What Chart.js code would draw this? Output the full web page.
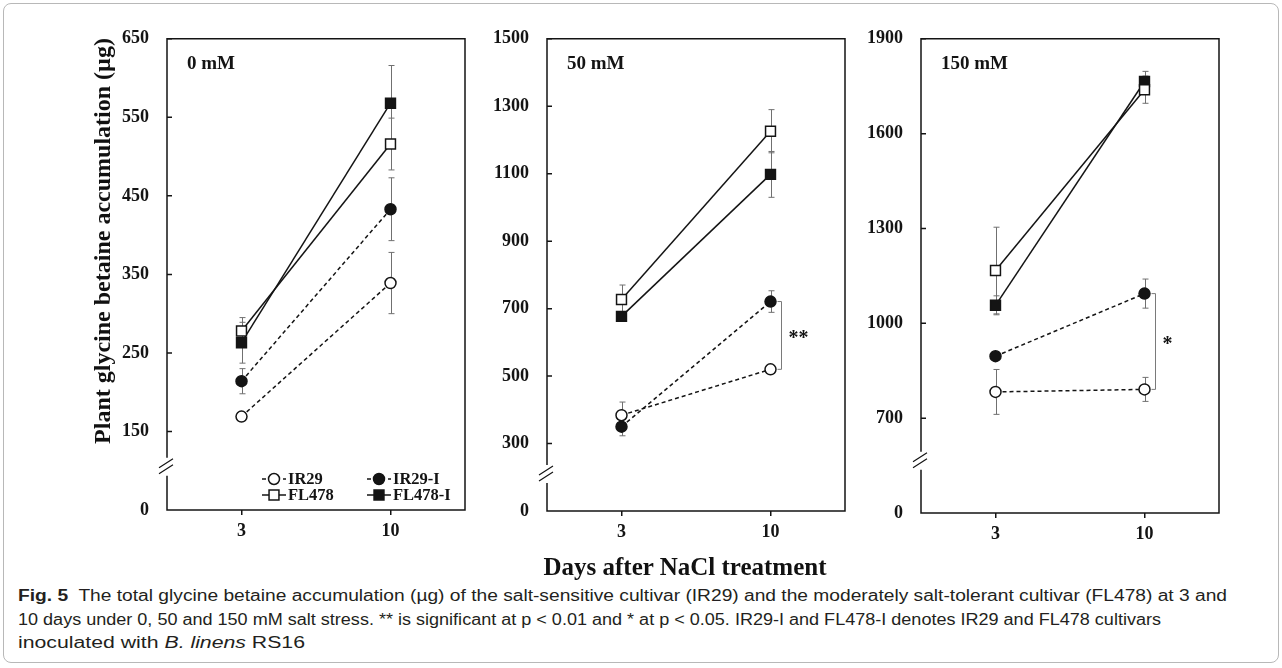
<!DOCTYPE html>
<html>
<head>
<meta charset="utf-8">
<script src="https://cdn.jsdelivr.net/npm/chart.js@4.4.0/dist/chart.umd.min.js"></script>
<style>
  body { margin: 0; background: #fff; width: 1282px; height: 668px; overflow: hidden; position: relative; }
  #frame { position: absolute; left: 3px; top: 3px; width: 1274px; height: 658px; border: 1px solid #b8b8b8; border-radius: 8px; }
  canvas { position: absolute; }
  .axtitle { position: absolute; font-family: "Liberation Serif", serif; font-weight: bold; color: #111; text-align: center; white-space: nowrap; }
  #ytitle { left: -108px; top: 226px; width: 420px; height: 30px; line-height: 30px; font-size: 24px; transform: rotate(-90deg); }
  #xtitle { left: 435px; top: 552px; width: 500px; height: 30px; line-height: 30px; font-size: 25px; }
  #caption { position: absolute; left: 18px; top: 584px; font-family: "Liberation Sans", sans-serif; font-size: 16px; line-height: 23.5px; color: #231f20; }
  .cap { display: inline-block; white-space: nowrap; transform-origin: 0 50%; }
</style>
</head>
<body>
<div id="frame"></div>
<canvas id="c0" width="440" height="545" style="left:40px;top:10px"></canvas>
<canvas id="c50" width="380" height="546" style="left:480px;top:10px"></canvas>
<canvas id="c150" width="374" height="548" style="left:860px;top:10px"></canvas>
<div id="ytitle" class="axtitle">Plant glycine betaine accumulation (µg)</div>
<div id="xtitle" class="axtitle">Days after NaCl treatment</div>
<div id="caption">
  <span class="cap" data-w="1209"><b>Fig. 5</b>&nbsp; The total glycine betaine accumulation (µg) of the salt-sensitive cultivar (IR29) and the moderately salt-tolerant cultivar (FL478) at 3 and</span><br>
  <span class="cap" data-w="1143">10 days under 0, 50 and 150 mM salt stress. ** is significant at p &lt; 0.01 and * at p &lt; 0.05. IR29-I and FL478-I denotes IR29 and FL478 cultivars</span><br>
  <span class="cap" data-w="287">inoculated with <i>B. linens</i> RS16</span>
</div>
<script>
const days = ['3', '10'];
const seriesNames = ['IR29', 'IR29-I', 'FL478', 'FL478-I'];
const panelTitles = ['0 mM', '50 mM', '150 mM'];
const sigLabels = ['', '**', '*'];

// 0 mM  (mean at day 3, day 10) and error bars
const ir29_0 = [169, 339];
const ir29i_0 = [214, 433];
const fl478_0 = [278, 516];
const fl478i_0 = [263, 568];
const ir29Err_0 = [3, 39];
const ir29iErr_0 = [16, 40];
const fl478Err_0 = [17, 33];
const fl478iErr_0 = [26, 48];

// 50 mM
const ir29_50 = [384, 520];
const ir29i_50 = [350, 721];
const fl478_50 = [727, 1226];
const fl478i_50 = [677, 1098];
const ir29Err_50 = [39, 8];
const ir29iErr_50 = [27, 32];
const fl478Err_50 = [43, 64];
const fl478iErr_50 = [8, 68];

// 150 mM
const ir29_150 = [783, 791];
const ir29i_150 = [896, 1094];
const fl478_150 = [1167, 1739];
const fl478i_150 = [1057, 1765];
const ir29Err_150 = [71, 38];
const ir29iErr_150 = [6, 46];
const fl478Err_150 = [137, 43];
const fl478iErr_150 = [30, 32];

// y axis ticks; the axis is broken, the lowest value sits where "0" is printed
const yTicks0 = [150, 250, 350, 450, 550, 650];
const yTicks50 = [300, 500, 700, 900, 1100, 1300, 1500];
const yTicks150 = [700, 1000, 1300, 1600, 1900];
const yBreakBase = [50, 100, 400];

// marker / line styles per series
const shapes = ['circle', 'circle', 'rect', 'rect'];
const filled = [false, true, false, true];
const dashed = [true, true, false, false];

const serif = '"Liberation Serif", "Times New Roman", serif';
const ink = '#141414';

const panelPlugin = {
  id: 'panel',
  beforeDatasetsDraw(chart) {
    const ctx = chart.ctx, xs = chart.scales.x, ys = chart.scales.y;
    ctx.save();
    ctx.strokeStyle = '#707070';
    ctx.lineWidth = 1;
    chart.data.datasets.forEach(ds => {
      ds.data.forEach((v, i) => {
        const e = ds.err[i];
        if (!e) return;
        const x = Math.round(xs.getPixelForValue(i)) + 0.5;
        const y1 = ys.getPixelForValue(v - e), y2 = ys.getPixelForValue(v + e);
        ctx.beginPath();
        ctx.moveTo(x, y1); ctx.lineTo(x, y2);
        ctx.moveTo(x - 3, y1); ctx.lineTo(x + 3, y1);
        ctx.moveTo(x - 3, y2); ctx.lineTo(x + 3, y2);
        ctx.stroke();
      });
    });
    ctx.restore();
  },
  afterDraw(chart, args, opts) {
    const ctx = chart.ctx, a = chart.chartArea, xs = chart.scales.x, ys = chart.scales.y;
    const base = opts.base, step = opts.ticks[1] - opts.ticks[0];
    const yb = ys.getPixelForValue(base + step * 0.55);
    ctx.save();
    ctx.strokeStyle = ink;
    ctx.lineWidth = 1.5;
    // box, left side broken
    ctx.beginPath();
    ctx.moveTo(a.left, yb - 9);
    ctx.lineTo(a.left, a.top);
    ctx.lineTo(a.right, a.top);
    ctx.lineTo(a.right, a.bottom);
    ctx.lineTo(a.left, a.bottom);
    ctx.lineTo(a.left, yb + 9);
    ctx.stroke();
    // break marks
    ctx.lineWidth = 1.2;
    ctx.beginPath();
    ctx.moveTo(a.left - 8, yb + 1); ctx.lineTo(a.left + 6, yb - 8);
    ctx.moveTo(a.left - 8, yb + 7); ctx.lineTo(a.left + 6, yb - 2);
    ctx.stroke();
    // inward ticks
    ctx.lineWidth = 1.5;
    ctx.beginPath();
    opts.ticks.forEach(v => {
      const y = ys.getPixelForValue(v);
      ctx.moveTo(a.left, y); ctx.lineTo(a.left + 5, y);
    });
    ctx.stroke();

    // panel title
    ctx.fillStyle = ink;
    ctx.font = 'bold 19px ' + serif;
    ctx.textBaseline = 'middle';
    ctx.textAlign = 'left';
    ctx.fillText(opts.title, a.left + 20, a.top + 25);

    // significance bracket between IR29-I and IR29 at day 10
    if (opts.sig) {
      const ds = chart.data.datasets;
      const x = xs.getPixelForValue(1) + 11;
      const y1 = ys.getPixelForValue(ds[1].data[1]), y2 = ys.getPixelForValue(ds[0].data[1]);
      ctx.strokeStyle = '#7a7a7a';
      ctx.lineWidth = 1;
      ctx.beginPath();
      ctx.moveTo(x - 4, y1); ctx.lineTo(x, y1); ctx.lineTo(x, y2); ctx.lineTo(x - 4, y2);
      ctx.stroke();
      ctx.font = 'bold 20px ' + serif;
      ctx.fillText(opts.sig, x + 7, (y1 + y2) / 2 + 3);
    }

    // legend inside the first panel
    if (opts.legend) {
      ctx.font = 'bold 16.5px ' + serif;
      chart.data.datasets.forEach((ds, k) => {
        const cx = a.left + (k % 2 ? 212 : 107);
        const cy = a.bottom - (k < 2 ? 31 : 15);
        ctx.strokeStyle = ink;
        ctx.lineWidth = 1.5;
        ctx.setLineDash(ds.borderDash);
        ctx.beginPath();
        ctx.moveTo(cx - 12, cy); ctx.lineTo(cx + 12, cy);
        ctx.stroke();
        ctx.setLineDash([]);
        ctx.fillStyle = ds.pointBackgroundColor;
        Chart.helpers.drawPoint(ctx, { pointStyle: ds.pointStyle, radius: ds.pointRadius, borderWidth: 1.5, rotation: 0 }, cx, cy);
        ctx.fillStyle = ink;
        ctx.fillText(ds.label, cx + 14, cy + 1);
      });
    }
    ctx.restore();
  }
};

function makeDatasets(vals, errs) {
  return seriesNames.map((name, k) => ({
    label: name,
    data: vals[k],
    err: errs[k],
    borderColor: ink,
    borderWidth: 1.5,
    borderDash: dashed[k] ? [4, 3] : [],
    pointStyle: shapes[k],
    pointRadius: shapes[k] === 'rect' ? 7 : 5.5,
    pointBorderWidth: 1.5,
    pointBorderColor: ink,
    pointBackgroundColor: filled[k] ? ink : '#fff',
    tension: 0,
    fill: false
  }));
}

function makeChart(id, p, vals, errs, ticks, yWidth, pad) {
  const base = yBreakBase[p];
  return new Chart(document.getElementById(id), {
    type: 'line',
    data: { labels: days, datasets: makeDatasets(vals, errs) },
    options: {
      responsive: false,
      animation: false,
      devicePixelRatio: 1,
      layout: { padding: pad },
      plugins: {
        legend: { display: false },
        tooltip: { enabled: false },
        panel: { title: panelTitles[p], sig: sigLabels[p], legend: p === 0, ticks: ticks, base: base }
      },
      scales: {
        x: {
          type: 'category',
          offset: true,
          border: { display: false },
          grid: { display: true, drawOnChartArea: false, drawTicks: true, tickLength: 5, color: ink, lineWidth: 1.5 },
          ticks: { color: ink, font: { family: serif, size: 18, weight: 'bold' }, padding: 6 },
          afterFit: s => { s.height = 40; }
        },
        y: {
          type: 'linear',
          min: base,
          max: ticks[ticks.length - 1],
          border: { display: false },
          grid: { display: false, drawTicks: false },
          afterBuildTicks: s => { s.ticks = [base].concat(ticks).map(v => ({ value: v })); },
          ticks: {
            color: ink,
            font: { family: serif, size: 18, weight: 'bold' },
            padding: 18,
            callback: v => (v === base ? '0' : String(v))
          },
          afterFit: s => { s.width = yWidth; }
        }
      }
    },
    plugins: [panelPlugin]
  });
}

makeChart('c0', 0,
  [ir29_0, ir29i_0, fl478_0, fl478i_0],
  [ir29Err_0, ir29iErr_0, fl478Err_0, fl478iErr_0],
  yTicks0, 127, { left: 0, right: 15, top: 24, bottom: 5 });

makeChart('c50', 1,
  [ir29_50, ir29i_50, fl478_50, fl478i_50],
  [ir29Err_50, ir29iErr_50, fl478Err_50, fl478iErr_50],
  yTicks50, 67, { left: 0, right: 15, top: 25, bottom: 5 });

makeChart('c150', 2,
  [ir29_150, ir29i_150, fl478_150, fl478i_150],
  [ir29Err_150, ir29iErr_150, fl478Err_150, fl478iErr_150],
  yTicks150, 61, { left: 0, right: 15, top: 28, bottom: 5 });

// stretch caption lines to the widths they have in the figure
document.querySelectorAll('.cap').forEach(el => {
  const w = el.getBoundingClientRect().width;
  el.style.transform = 'scaleX(' + (el.dataset.w / w) + ')';
});
</script>
</body>
</html>
